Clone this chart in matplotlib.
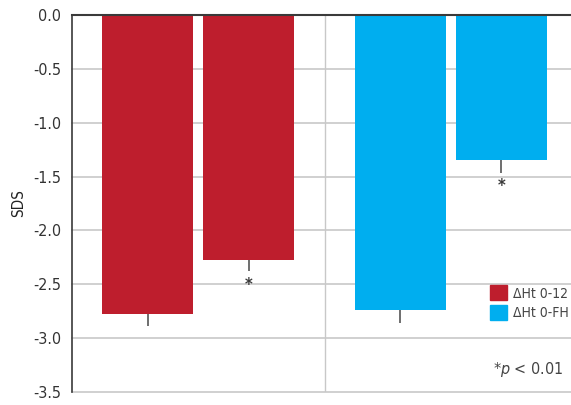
import matplotlib
matplotlib.use("Agg")
import matplotlib.pyplot as plt
from matplotlib.patches import Patch

plt.rcParams['font.family'] = ['DejaVu Sans']
plt.rcParams['font.stretch'] = 'condensed'
plt.rcParams['mathtext.fontset'] = 'custom'
plt.rcParams['mathtext.it'] = 'DejaVu Sans:italic'
plt.rcParams['mathtext.rm'] = 'DejaVu Sans'

# bar values (SDS) and lower error bar length
positions = [0, 1, 2.5, 3.5]
values = [-2.78, -2.27, -2.74, -1.35]
errors = [0.11, 0.11, 0.12, 0.115]
series = ['ΔHt 0-12', 'ΔHt 0-12', 'ΔHt 0-FH', 'ΔHt 0-FH']
significant = [False, True, False, True]
legend_labels = ['ΔHt 0-12', 'ΔHt 0-FH']
yticks = [0.0, -0.5, -1.0, -1.5, -2.0, -2.5, -3.0, -3.5]

colors = {'ΔHt 0-12': '#be1e2d', 'ΔHt 0-FH': '#00aeef'}
grey = '#c8c8c8'
dark = '#3a3a3a'

fig = plt.figure(figsize=(5.71, 4.05), dpi=100)
ax = fig.add_axes([72 / 571, 13 / 405, 1 - 72 / 571, 377 / 405])

ax.set_ylim(-3.5, 0)
ax.set_xlim(-0.75, 4.19)
ax.set_yticks(yticks)
ax.set_yticklabels(['%.1f' % t for t in yticks])
ax.tick_params(axis='y', length=0, pad=8, labelsize=11.5, labelcolor='#333333')
ax.set_xticks([])

for t in yticks[1:]:
    ax.axhline(t, color=grey, lw=1.2, zorder=0, clip_on=False)
ax.axvline(1.75, color=grey, lw=1, zorder=0)

for x, v, e, s, sig in zip(positions, values, errors, series, significant):
    ax.bar(x, v, width=0.9, color=colors[s], zorder=2)
    ax.errorbar(x, v, yerr=[[e], [0]], fmt='none', ecolor='#555555',
                elinewidth=1.2, capsize=0, zorder=3)
    if sig:
        ax.text(x, v - e - 0.04, '*', ha='center', va='top', fontsize=12,
                fontweight='bold', color=dark, zorder=3)

for side in ['right', 'bottom']:
    ax.spines[side].set_visible(False)
ax.spines['left'].set_color(dark)
ax.spines['left'].set_linewidth(1.2)
ax.spines['top'].set_color(dark)
ax.spines['top'].set_linewidth(1.5)

ax.set_ylabel('SDS', fontsize=11, color='#222222', labelpad=5)

handles = [Patch(color=colors[l]) for l in legend_labels]
ax.legend(handles, legend_labels, loc='upper left', bbox_to_anchor=(0.837, 0.283),
          frameon=False, fontsize=10, handlelength=1.25, handleheight=1.3,
          handletextpad=0.45, labelspacing=0.3, borderaxespad=0, borderpad=0,
          labelcolor='#444444')

ax.text(0.984, 0.035, r'*$p$ < 0.01', transform=ax.transAxes, ha='right',
        va='bottom', fontsize=11.5, color='#444444')

fig.savefig('out.png', dpi=100)
